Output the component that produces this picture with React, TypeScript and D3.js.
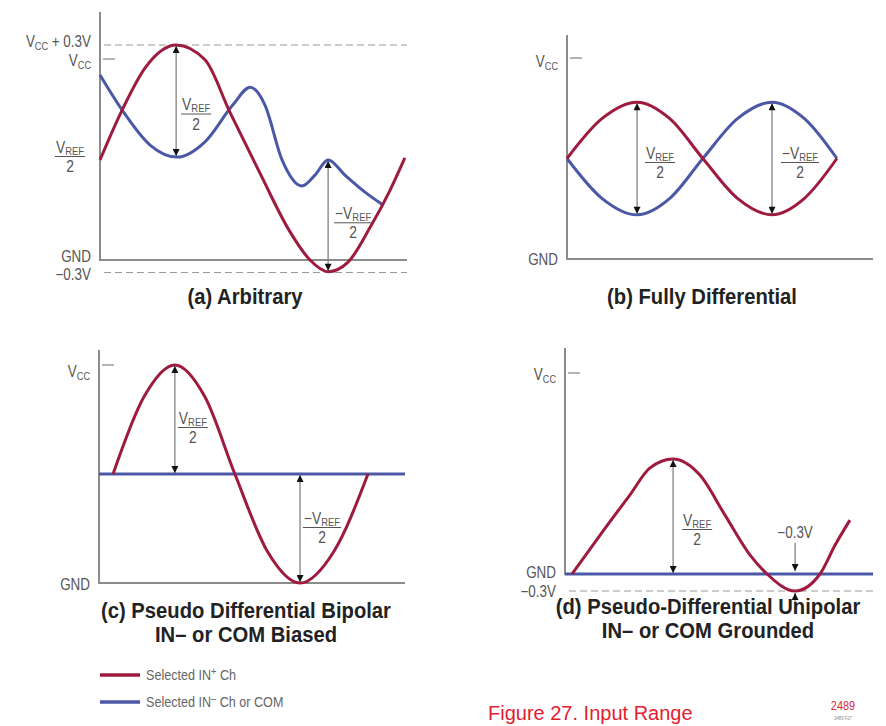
import React, { useEffect, useRef } from 'react'
import * as d3 from 'd3'

// time runs 0..100 across each panel, values are volts (Vcc = 5)
const aInPlus: [number, number][] = [
  [0, 2.49], [7.2, 3.73], [14.7, 4.78], [24.8, 5.3], [34.2, 4.98], [42.3, 3.68],
  [52.1, 2.16], [61.9, 0.7], [68.4, 0], [74.3, -0.28], [80.8, -0.05], [87.9, 0.8],
  [94.5, 1.74], [99.3, 2.54],
]
const aInMinus: [number, number][] = [
  [0, 4.6], [7.2, 3.73], [16.3, 2.86], [25.1, 2.56], [34.2, 2.94], [43.3, 3.86],
  [48.9, 4.3], [53.7, 3.86], [59.3, 2.49], [65.8, 1.84], [70, 2.11], [74.3, 2.49],
  [79.8, 2.11], [86.3, 1.69], [92.2, 1.37],
]
const bInPlus: [number, number][] = [
  [0, 2.5], [11.4, 3.49], [22.9, 3.9], [33.6, 3.49], [44.4, 2.5], [55.7, 1.51],
  [67, 1.1], [77.6, 1.51], [88.2, 2.5],
]
const bInMinus: [number, number][] = [
  [0, 2.5], [11.4, 1.51], [22.9, 1.1], [33.6, 1.51], [44.4, 2.5], [55.7, 3.49],
  [67, 3.9], [77.6, 3.49], [88.2, 2.5],
]
const cInPlus: [number, number][] = [
  [4.6, 2.5], [14.7, 4.27], [24.8, 5], [34.6, 4.27], [44.4, 2.5], [55, 0.73],
  [65.7, 0], [76.8, 0.73], [87.9, 2.5],
]
const cInMinus: [number, number][] = [[0, 2.5], [100, 2.5]]
const dInPlus: [number, number][] = [
  [2.3, 0], [11.4, 0.97], [21.1, 1.97], [27.6, 2.64], [35.1, 2.86], [43.8, 2.46],
  [51.9, 1.47], [60.1, 0.47], [65.6, 0], [74.7, -0.3], [82.8, 0], [87.7, 0.72],
  [92.5, 1.34],
]
const dInMinus: [number, number][] = [[0, 0], [100, 0]]

// span arrows: [time, from V, to V, sign of label]
const aArrows: [number, number, number, string][] = [[24.8, 5.3, 2.56, '+'], [74.3, 2.49, -0.28, '-']]
const bArrows: [number, number, number, string][] = [[22.9, 3.9, 1.1, '+'], [67, 3.9, 1.1, '-']]
const cArrows: [number, number, number, string][] = [[24.8, 5, 2.5, '+'], [65.7, 2.5, 0, '-']]
const dArrows: [number, number, number, string][] = [[35.1, 2.86, 0, '+']]

const titlesA = ['(a) Arbitrary']
const titlesB = ['(b) Fully Differential']
const titlesC = ['(c) Pseudo Differential Bipolar', 'IN\u2013 or COM Biased']
const titlesD = ['(d) Pseudo-Differential Unipolar', 'IN\u2013 or COM Grounded']

const RED = '#9e1b3e'
const BLUE = '#4b58a6'
const AXIS = '#8c8c8c'
const LABEL = '#555'
const FONT = '"Liberation Sans", Arial, sans-serif'
const SX = 0.84

type Panel = {
  x0: number; x1: number; yTop: number
  vDomain: number[]; yRange: number[]
  plus: [number, number][]; minus: [number, number][]
  arrows: [number, number, number, string][]
  labelOff: [number, number][]
  dashed: number[]
  vccLabelY: number; gndLabelY: number
  extraLeft: { text: string; v: number; dy: number }[]
  showFracLeft: boolean
  titles: string[]; titleX: number; titleY: number
  minusOnAxis: boolean
}

const panels: Panel[] = [
  {
    x0: 100, x1: 407, yTop: 12, vDomain: [-0.3, 0, 5, 5.3], yRange: [272.5, 260, 59, 45],
    plus: aInPlus, minus: aInMinus, arrows: aArrows, labelOff: [[20, 13], [25, 7]],
    dashed: [5.3, -0.3], vccLabelY: 2, gndLabelY: -3,
    extraLeft: [{ text: 'VCC + 0.3V', v: 5.3, dy: -3 }, { text: '\u22120.3V', v: -0.3, dy: 2 }],
    showFracLeft: true, titles: titlesA, titleX: 245, titleY: 304, minusOnAxis: false,
  },
  {
    x0: 567, x1: 873, yTop: 35, vDomain: [0, 5], yRange: [259, 58],
    plus: bInPlus, minus: bInMinus, arrows: bArrows, labelOff: [[23, 4], [28, 4]],
    dashed: [], vccLabelY: 4, gndLabelY: 1, extraLeft: [],
    showFracLeft: false, titles: titlesB, titleX: 702, titleY: 304, minusOnAxis: false,
  },
  {
    x0: 99, x1: 405, yTop: 350, vDomain: [0, 5], yRange: [583, 365],
    plus: cInPlus, minus: cInMinus, arrows: cArrows, labelOff: [[18, 8], [22, -1]],
    dashed: [], vccLabelY: 7, gndLabelY: 2, extraLeft: [],
    showFracLeft: false, titles: titlesC, titleX: 246, titleY: 618, minusOnAxis: false,
  },
  {
    x0: 565, x1: 873, yTop: 348, vDomain: [-0.3, 0, 5], yRange: [591, 574, 373],
    plus: dInPlus, minus: dInMinus, arrows: dArrows, labelOff: [[24, 13]],
    dashed: [-0.3], vccLabelY: 2, gndLabelY: -1,
    extraLeft: [{ text: '\u22120.3V', v: -0.3, dy: 1 }],
    showFracLeft: false, titles: titlesD, titleX: 708, titleY: 614, minusOnAxis: true,
  },
]

// condensed look: regular face squeezed horizontally
const narrow = (g: any, x: number, y: number, size: number, anchor: string, sx = SX) =>
  g.append('text')
    .attr('transform', `translate(${x},${y}) scale(${sx},1)`)
    .attr('text-anchor', anchor)
    .style('font-family', FONT)
    .style('font-size', size + 'px')

const addV = (sel: any, sub: string, prefix: string, size: number, drop = 3) => {
  sel.append('tspan').text(prefix + 'V')
  sel.append('tspan').attr('font-size', size * 0.68).attr('dy', drop).text(sub)
}

const App = () => {
  const svgRef = useRef<SVGSVGElement | null>(null)

  useEffect(() => {
    const svg = d3.select(svgRef.current)
    svg.selectAll('*').remove()

    const defs = svg.append('defs')
    defs.append('marker')
      .attr('id', 'head')
      .attr('viewBox', '0 0 10 10')
      .attr('refX', 10).attr('refY', 5)
      .attr('markerWidth', 10).attr('markerHeight', 7)
      .attr('markerUnits', 'userSpaceOnUse')
      .attr('orient', 'auto-start-reverse')
      .append('path').attr('d', 'M0,0 L10,5 L0,10 Z').attr('fill', '#111')

    const fraction = (g: any, cx: number, lineY: number, prefix: string) => {
      const t = narrow(g, cx, lineY - 4, 16.5, 'middle').attr('fill', LABEL)
      addV(t, 'REF', prefix, 16.5, 2)
      const w = (t.node() as SVGTextElement).getComputedTextLength() * SX
      g.append('line')
        .attr('x1', cx - w / 2 - 1).attr('x2', cx + w / 2 + 1)
        .attr('y1', lineY).attr('y2', lineY)
        .attr('stroke', LABEL).attr('stroke-width', 1)
      narrow(g, cx, lineY + 15.5, 16.5, 'middle').attr('fill', LABEL).text('2')
    }

    const leftLabel = (g: any, x: number, y: number, text: string) => {
      const t = narrow(g, x, y, 16, 'end').attr('fill', LABEL)
      if (text.startsWith('VCC')) {
        addV(t, 'CC', '', 16)
        if (text.length > 3) t.append('tspan').attr('dy', -3).text(text.slice(3))
      } else {
        t.text(text)
      }
    }

    panels.forEach((p) => {
      const g = svg.append('g')
      const x = d3.scaleLinear().domain([0, 100]).range([p.x0, p.x1])
      const y = d3.scaleLinear().domain(p.vDomain).range(p.yRange)
      const line = d3.line<[number, number]>()
        .x((d) => x(d[0])).y((d) => y(d[1]))
        .curve(d3.curveMonotoneX)

      // dashed limits
      p.dashed.forEach((v) => {
        g.append('line')
          .attr('x1', p.x0 + 4).attr('x2', p.x1)
          .attr('y1', y(v)).attr('y2', y(v))
          .attr('stroke', '#9a9a9a').attr('stroke-width', 1.2)
          .attr('stroke-dasharray', '7,4')
      })

      // axes
      g.append('line')
        .attr('x1', p.x0).attr('x2', p.x0)
        .attr('y1', p.yTop).attr('y2', y(0) + 1)
        .attr('stroke', AXIS).attr('stroke-width', 2)
      g.append('line')
        .attr('x1', p.x0).attr('x2', p.x1)
        .attr('y1', y(0)).attr('y2', y(0))
        .attr('stroke', AXIS).attr('stroke-width', 2)
      g.append('line')
        .attr('x1', p.x0 + 3).attr('x2', p.x0 + 15)
        .attr('y1', y(5)).attr('y2', y(5))
        .attr('stroke', AXIS).attr('stroke-width', 1.3)

      // axis labels
      leftLabel(g, p.x0 - 9, y(5) + 5 + p.vccLabelY, 'VCC')
      leftLabel(g, p.x0 - 9, y(0) + 5 + p.gndLabelY, 'GND')
      p.extraLeft.forEach((e) => leftLabel(g, p.x0 - 9, y(e.v) + 5 + e.dy, e.text))
      if (p.showFracLeft) fraction(g, p.x0 - 30, y(2.5) - 3, '')

      // signals
      g.append('path').datum(p.minus).attr('d', line)
        .attr('fill', 'none').attr('stroke', BLUE).attr('stroke-width', 3)
      g.append('path').datum(p.plus).attr('d', line)
        .attr('fill', 'none').attr('stroke', RED).attr('stroke-width', 3)

      // span arrows
      p.arrows.forEach((a, i) => {
        const ax = x(a[0])
        g.append('line')
          .attr('x1', ax).attr('x2', ax)
          .attr('y1', y(a[1]) + 1).attr('y2', y(a[2]) - 1)
          .attr('stroke', '#777').attr('stroke-width', 1.2)
          .attr('marker-start', 'url(#head)').attr('marker-end', 'url(#head)')
        const mid = (y(a[1]) + y(a[2])) / 2
        fraction(g, ax + p.labelOff[i][0], mid + p.labelOff[i][1], a[3] === '-' ? '\u2212' : '')
      })

      // -0.3V markers in panel d
      if (p.minusOnAxis) {
        const mx = x(74.7)
        g.append('line')
          .attr('x1', mx).attr('x2', mx)
          .attr('y1', y(0) - 31).attr('y2', y(0) - 3)
          .attr('stroke', '#777').attr('stroke-width', 1.2)
          .attr('marker-end', 'url(#head)')
        g.append('line')
          .attr('x1', mx).attr('x2', mx)
          .attr('y1', y(-0.3) + 22).attr('y2', y(-0.3) + 2)
          .attr('stroke', '#777').attr('stroke-width', 1.2)
          .attr('marker-end', 'url(#head)')
        narrow(g, mx, y(0) - 36, 16, 'middle').attr('fill', LABEL).text('\u22120.3V')
      }

      // titles
      p.titles.forEach((t, i) => {
        narrow(g, p.titleX, p.titleY + i * 24, 22, 'middle', 0.92)
          .style('font-weight', 'bold').attr('fill', '#222')
          .text(t)
      })
    })

    // legend
    const legend = svg.append('g')
    const items: [string, string, string][] = [[RED, '+', ' Ch'], [BLUE, '\u2013', ' Ch or COM']]
    items.forEach((it, i) => {
      const ly = 675 + i * 27
      legend.append('line')
        .attr('x1', 100).attr('x2', 140).attr('y1', ly).attr('y2', ly)
        .attr('stroke', it[0]).attr('stroke-width', 3.5)
      const t = narrow(legend, 146, ly + 5, 15, 'start').attr('fill', '#666')
      t.append('tspan').text('Selected IN')
      t.append('tspan').attr('dy', -5).attr('font-size', 11).text(it[1])
      t.append('tspan').attr('dy', 5).text(it[2])
    })

    // caption
    svg.append('text')
      .attr('x', 488).attr('y', 720)
      .style('font-family', FONT)
      .style('font-size', '20px').attr('fill', '#e3202f')
      .text('Figure 27. Input Range')
    narrow(svg, 843, 710, 13, 'middle').attr('fill', '#d8283a').text('2489')
    narrow(svg, 843, 720, 5, 'middle').attr('fill', '#888').text('2489 F27')
  }, [])

  return (
    <svg
      ref={svgRef}
      width={886}
      height={726}
      style={{ position: 'absolute', left: 0, top: 0, background: '#fff' }}
    />
  )
}

export default App
